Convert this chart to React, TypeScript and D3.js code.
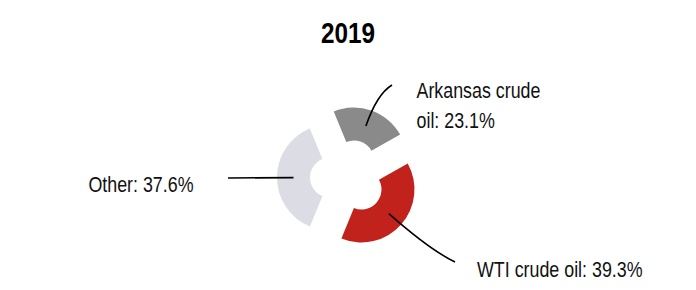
import React from "react";
import * as d3 from "d3";

const TITLE = "2019";
const categories = ["Arkansas crude oil", "WTI crude oil", "Other"];
const values = [23.1, 39.3, 37.6];
const labelLines = [["Arkansas crude", "oil: 23.1%"], ["WTI crude oil: 39.3%"], ["Other: 37.6%"]];
const colors = ["#8a8a8a", "#c1221b", "#dcdde4"];

const W = 696;
const H = 290;
const CX = 348;
const CY = 177.5;
const R_OUT = 53;
const R_IN = 20;
const EXPLODE = 18;
const FONT = "'Liberation Sans', Arial, sans-serif";
const SX = 0.83;

const layout = [
  { tx: 416.5, ty: 98.3, lines: 30, end: [392, 85], ctrl: [377, 94], anchor: "start" },
  { tx: 477, ty: 276.7, lines: 0, end: [455, 262], ctrl: [430, 250], anchor: "start" },
  { tx: 193.5, ty: 191.7, lines: 0, end: [228, 178], ctrl: null, anchor: "end" },
];

export default function App() {
  const startDeg = -22.4;
  const pie = d3
    .pie<number>()
    .sort(null)
    .startAngle((startDeg * Math.PI) / 180)
    .endAngle(((startDeg + 360) * Math.PI) / 180);
  const arcs = pie(values);
  const arc = d3.arc<d3.PieArcDatum<number>>().innerRadius(R_IN).outerRadius(R_OUT);

  return (
    <svg
      width={W}
      height={H}
      style={{ position: "absolute", left: 0, top: 0, background: "#fff" }}
    >
      <text
        transform={`translate(${CX},43.3) scale(0.81,1)`}
        textAnchor="middle"
        fontFamily={FONT}
        fontWeight="bold"
        fontSize={30}
        fill="#000"
      >
        {TITLE}
      </text>
      {arcs.map((a, i) => {
        const mid = (a.startAngle + a.endAngle) / 2;
        const ox = CX + Math.sin(mid) * EXPLODE;
        const oy = CY - Math.cos(mid) * EXPLODE;
        const [cx0, cy0] = arc.centroid(a);
        const sx = ox + cx0;
        const sy = oy + cy0;
        const L = layout[i];
        const p = d3.path();
        p.moveTo(sx, sy);
        if (L.ctrl) p.quadraticCurveTo(L.ctrl[0], L.ctrl[1], L.end[0], L.end[1]);
        else p.lineTo(L.end[0], L.end[1]);
        return (
          <g key={categories[i]}>
            <path d={arc(a) || ""} transform={`translate(${ox},${oy})`} fill={colors[i]} />
            <path d={p.toString()} fill="none" stroke="#000" strokeWidth={1.6} />
            <text
              transform={`translate(${L.tx},${L.ty}) scale(${SX},1)`}
              textAnchor={L.anchor as any}
              fontFamily={FONT}
              fontSize={21.5}
              fill="#111"
            >
              {labelLines[i].map((ln, j) => (
                <tspan key={j} x={0} dy={j === 0 ? 0 : L.lines}>
                  {ln}
                </tspan>
              ))}
            </text>
          </g>
        );
      })}
    </svg>
  );
}
